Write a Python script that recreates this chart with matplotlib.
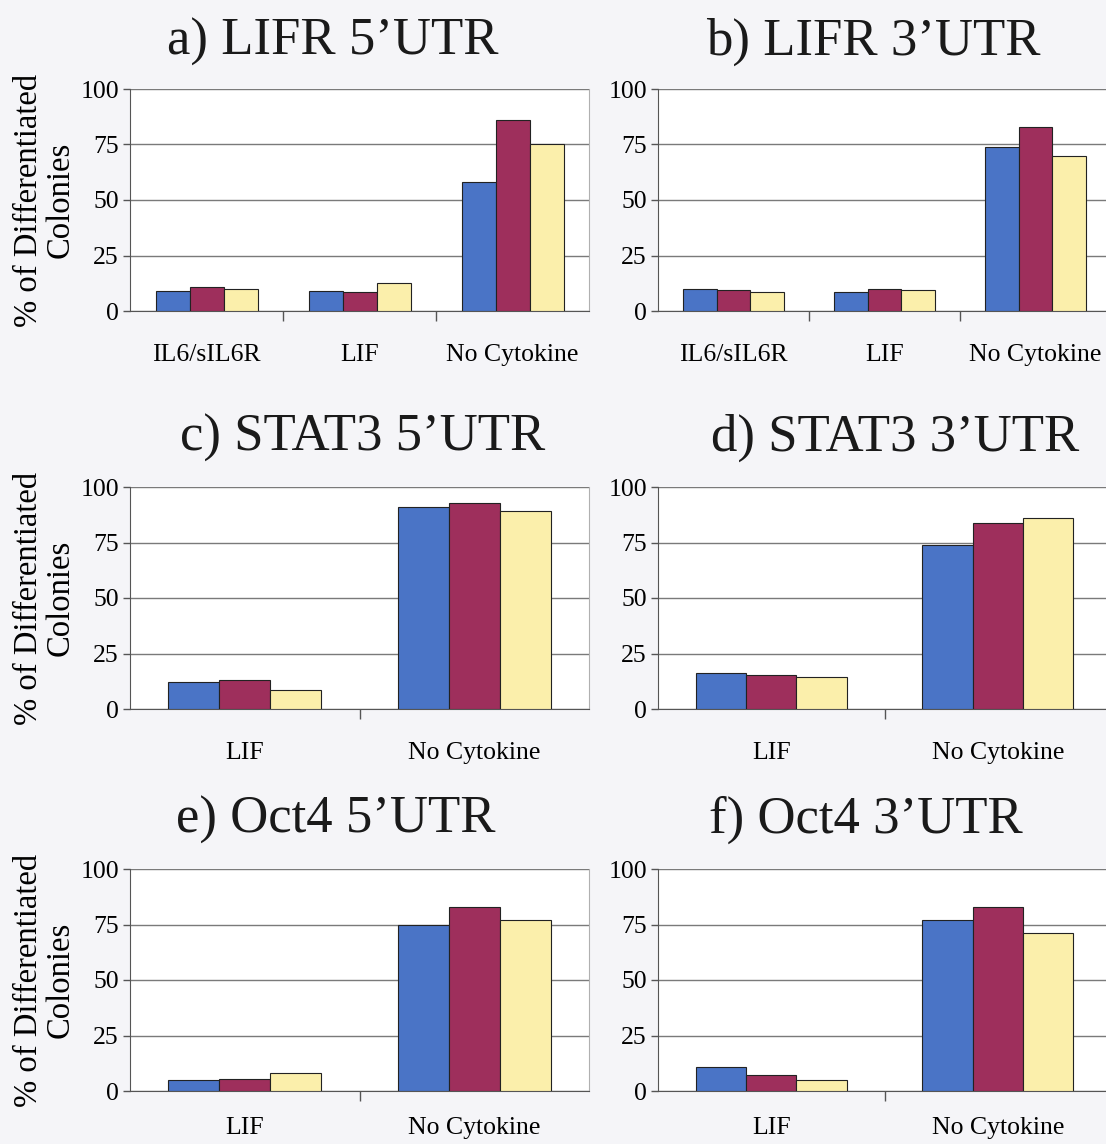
import numpy as np
import matplotlib.pyplot as plt

plt.rcParams['font.family'] = ['Liberation Serif', 'DejaVu Serif']

# panel titles
titles = ['a) LIFR 5\u2019UTR', 'b) LIFR 3\u2019UTR',
          'c) STAT3 5\u2019UTR', 'd) STAT3 3\u2019UTR',
          'e) Oct4 5\u2019UTR', 'f) Oct4 3\u2019UTR']

cats_three = ['IL6/sIL6R', 'LIF', 'No Cytokine']
cats_two = ['LIF', 'No Cytokine']

# three series per panel (blue, maroon, yellow), one value per category
lifr5 = [[9, 9, 58], [11, 8.5, 86], [10, 12.5, 75]]
lifr3 = [[10, 8.5, 74], [9.5, 10, 83], [8.5, 9.5, 70]]
stat5 = [[12, 91], [13, 93], [8.5, 89]]
stat3 = [[16, 74], [15.5, 84], [14.5, 86]]
oct5 = [[5, 75], [5.5, 83], [8, 77]]
oct3 = [[11, 77], [7, 83], [5, 71]]

colors = ['#4a74c6', '#9e2f5c', '#fbefab']

panels = [(lifr5, cats_three), (lifr3, cats_three),
          (stat5, cats_two), (stat3, cats_two),
          (oct5, cats_two), (oct3, cats_two)]

W, H = 1106, 1144
fig = plt.figure(figsize=(W / 100, H / 100), dpi=100)
fig.patch.set_facecolor('#f5f5f8')

col_x = [(130, 589), (658, 1111)]
row_y = [(89, 311), (487, 709), (869, 1091)]
title_pos = [(333, 42), (873, 42), (363, 438), (895, 438), (336, 820), (866, 820)]


def draw_panel(ax, series, cats, pad):
    n = len(cats)
    x = np.arange(n)
    bw = 1 / 4.5
    for i, vals in enumerate(series):
        ax.bar(x + (i - 1) * bw, vals, width=bw, color=colors[i],
               edgecolor='#222222', linewidth=0.8, zorder=3)
    ax.set_xlim(-0.5, n - 0.5)
    ax.set_ylim(0, 100)
    ax.set_yticks([0, 25, 50, 75, 100])
    ax.yaxis.grid(True, color='#7a7a7a', linewidth=1.0, zorder=0)
    ax.set_axisbelow(True)
    # category labels centred, tick marks between categories
    ax.set_xticks(x)
    ax.set_xticklabels(cats)
    ax.set_xticks(np.arange(n + 1)[1:-1] - 0.5, minor=True)
    ax.tick_params(axis='x', which='major', length=0, pad=pad, labelsize=18.5)
    ax.tick_params(axis='x', which='minor', length=7, width=1.0, color='#555555')
    ax.tick_params(axis='y', length=5, width=1.0, color='#555555', pad=3,
                   labelsize=18.5)
    ax.spines['top'].set_visible(False)
    ax.spines['left'].set_color('#555555')
    ax.spines['bottom'].set_color('#555555')
    ax.spines['right'].set_color('#b0b0b0')
    ax.set_facecolor('white')


for k, (series, cats) in enumerate(panels):
    r, c = divmod(k, 2)
    x0, x1 = col_x[c]
    y0, y1 = row_y[r]
    ax = fig.add_axes([x0 / W, 1 - y1 / H, (x1 - x0) / W, (y1 - y0) / H])
    draw_panel(ax, series, cats, 24 if r < 2 else 19)
    if c == 0:
        ax.set_ylabel('% of Differentiated\nColonies', fontsize=23.5,
                      labelpad=3, linespacing=1.05)
    tx, ty = title_pos[k]
    fig.text(tx / W, 1 - ty / H, titles[k], fontsize=38, ha='center',
             va='center', color='#1a1a1a')

fig.savefig('out.png', dpi=100, facecolor=fig.get_facecolor())
